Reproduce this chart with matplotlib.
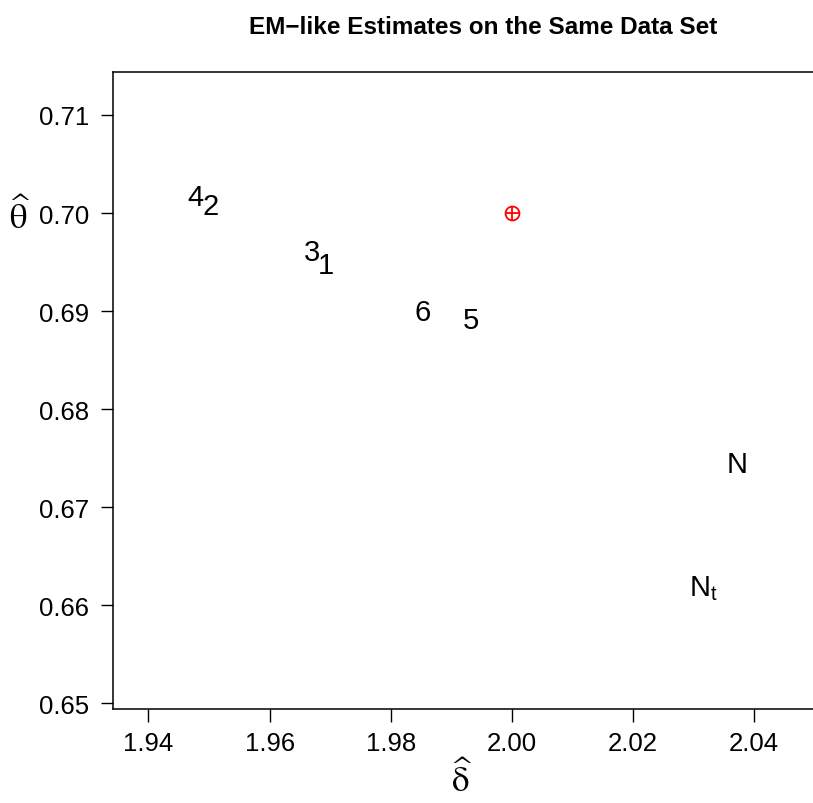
import matplotlib
matplotlib.use("Agg")
import matplotlib.pyplot as plt
from matplotlib.transforms import blended_transform_factory

plt.rcParams['font.family'] = ['Liberation Sans', 'DejaVu Sans']
plt.rcParams['mathtext.fontset'] = 'stix'

# estimates (label centres)
labels = ["4", "2", "3", "1", "6", "5", "N", "$\\mathregular{N_t}$"]
delta_hat = [1.9477, 1.9503, 1.9670, 1.9693, 1.9853, 1.9933, 2.0372, 2.0317]
theta_hat = [0.7019, 0.7010, 0.6963, 0.6950, 0.6902, 0.6894, 0.6747, 0.6621]

# true value
true_delta = [2.00]
true_theta = [0.70]

xticks = [1.94, 1.96, 1.98, 2.00, 2.02, 2.04]
yticks = [0.65, 0.66, 0.67, 0.68, 0.69, 0.70, 0.71]

fig = plt.figure(figsize=(8.13, 8.04), dpi=100)
ax = fig.add_axes([113 / 813, 94.3 / 804, 738 / 813, 636.4 / 804])
ax.set_xlim(1.93414, 2.0560)
ax.set_ylim(0.64945, 0.71435)

for lab, x, y in zip(labels, delta_hat, theta_hat):
    ax.text(x, y, lab, fontsize=21, ha="center", va="center_baseline")

ax.plot(true_delta, true_theta, "o", ms=10, mfc="none", mec="red", mew=1.3)
ax.plot(true_delta, true_theta, "+", ms=10, mec="red", mew=1.3)

ax.set_xticks(xticks)
ax.set_xticklabels(["%.2f" % v for v in xticks])
ax.set_yticks(yticks)
ax.set_yticklabels(["%.2f" % v for v in yticks])
ax.tick_params(direction="out", length=9, width=1, labelsize=18.5, pad=8)
ax.tick_params(axis="x", pad=7)
ax.spines["right"].set_visible(False)
for s in ["left", "top", "bottom"]:
    ax.spines[s].set_linewidth(1.1)

fig.text(483 / 813, 1 - 27 / 804, "EM\u2212like Estimates on the Same Data Set",
         fontsize=17.5, fontweight="bold", ha="center", va="center")
fig.text(462 / 813, 1 - 780 / 804, r"$\widehat{\mathrm{\delta}}$", fontsize=25,
         ha="center", va="center")
ax.text(20 / 813, 0.6997, r"$\widehat{\mathrm{\theta}}$", fontsize=25, ha="center",
        va="center", transform=blended_transform_factory(fig.transFigure, ax.transData))

fig.savefig("out.png", dpi=100)
